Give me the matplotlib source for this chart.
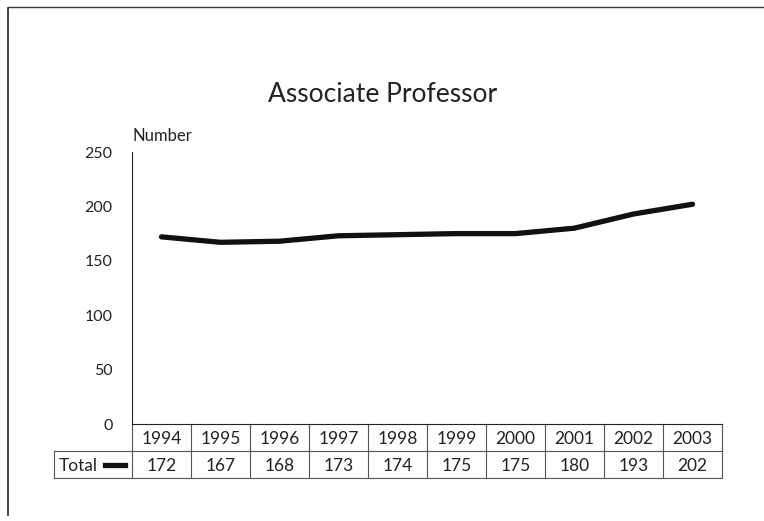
import matplotlib.pyplot as plt
import numpy as np

years = ["1994", "1995", "1996", "1997", "1998", "1999", "2000", "2001", "2002", "2003"]
totals = [172, 167, 168, 173, 174, 175, 175, 180, 193, 202]
yticks = [0, 50, 100, 150, 200, 250]
series_name = "Total"

plt.rcParams['font.family'] = ['Lato', 'DejaVu Sans']

W, H = 764, 521
fig = plt.figure(figsize=(W / 100, H / 100), dpi=100)

# outer frame (left and top edge only, like the scan)
fig.add_artist(plt.Line2D([8 / W, 8 / W], [1 - 8 / H, 1 - 515 / H], color='#222', lw=1.2))
fig.add_artist(plt.Line2D([8 / W, 1.0], [1 - 7 / H, 1 - 7 / H], color='#333', lw=1.0))

ax = fig.add_axes([132 / W, 97 / H, 590 / W, 272 / H])
x = np.arange(len(years))
ax.plot(x, totals, color='#111', lw=3.8, solid_capstyle='round')
ax.set_xlim(-0.5, len(years) - 0.5)
ax.set_ylim(0, 250)
ax.set_yticks(yticks)
ax.set_yticklabels([str(t) for t in yticks], fontsize=11.5, color='#222')
ax.tick_params(axis='y', length=0, pad=14)
ax.set_xticks([])
for s in ['top', 'right']:
    ax.spines[s].set_visible(False)
ax.spines['left'].set_color('#222')
ax.spines['bottom'].set_color('#222')

ax.text(0.0, 1.03, "Number", transform=ax.transAxes, fontsize=12, color='#222', ha='left', va='bottom')
fig.text(383 / W, 1 - 95 / H, "Associate Professor", fontsize=19, color='#222', ha='center', va='center')

# data table under the axis
row_h = 27 / 272  # in axes fraction
trans = ax.get_xaxis_transform()
lc = '#555'
y0, y1, y2 = 0.0, -row_h, -2 * row_h
ax.plot([-0.5, len(years) - 0.5], [y1, y1], transform=trans, color=lc, lw=0.8, clip_on=False)
ax.plot([-0.5, len(years) - 0.5], [y2, y2], transform=trans, color=lc, lw=0.8, clip_on=False)
for i in range(len(years) + 1):
    ax.plot([i - 0.5, i - 0.5], [y0, y2], transform=trans, color=lc, lw=0.8, clip_on=False)
for i, (yr, v) in enumerate(zip(years, totals)):
    ax.text(i, (y0 + y1) / 2 - 0.005, yr, transform=trans, ha='center', va='center', fontsize=12.5,
            color='#222')
    ax.text(i, (y1 + y2) / 2 - 0.005, str(v), transform=trans, ha='center', va='center', fontsize=12.5,
            color='#222')

# series label cell with legend key
lx0 = -0.5 - 78 / 59
ax.plot([lx0, -0.5], [y1, y1], transform=trans, color=lc, lw=0.8, clip_on=False)
ax.plot([lx0, -0.5], [y2, y2], transform=trans, color=lc, lw=0.8, clip_on=False)
ax.plot([lx0, lx0], [y1, y2], transform=trans, color=lc, lw=0.8, clip_on=False)
ax.text(lx0 + 5 / 59, (y1 + y2) / 2 - 0.005, series_name, transform=trans, ha='left', va='center',
        fontsize=12.5, color='#222')
ax.plot([-0.5 - 27 / 59, -0.5 - 7 / 59], [(y1 + y2) / 2, (y1 + y2) / 2], transform=trans,
        color='#111', lw=3.8, clip_on=False)

fig.savefig("out.png", dpi=100, facecolor='white')
